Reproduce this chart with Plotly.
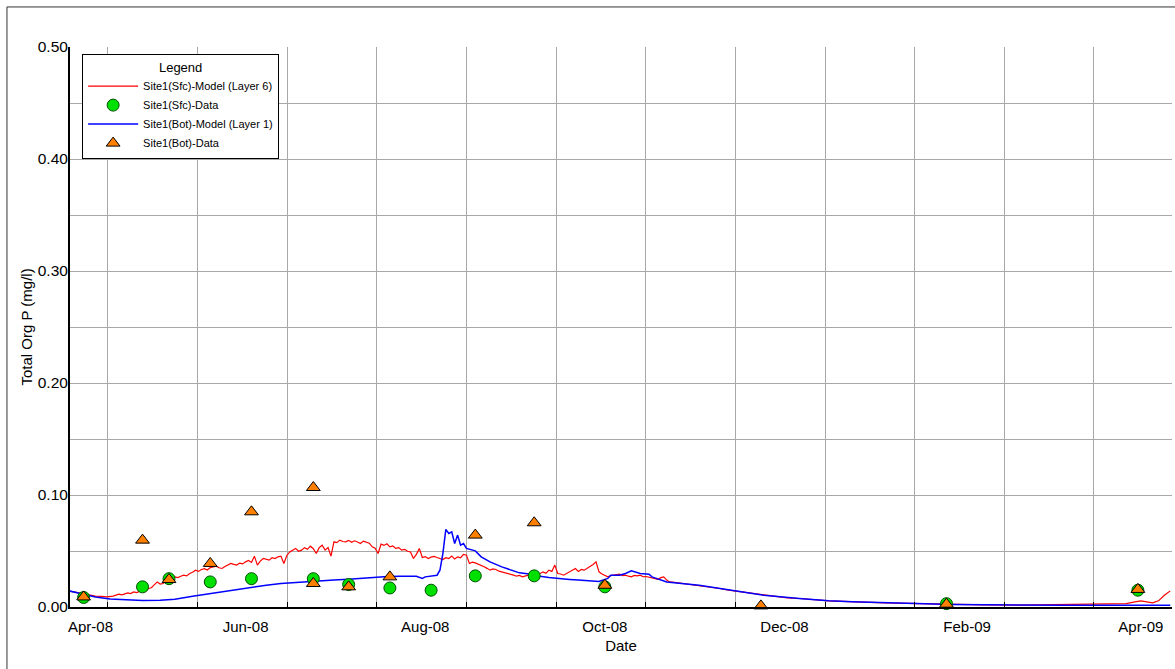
import pandas as pd
import plotly.graph_objects as go

# ---------------- data ----------------
# Site1(Sfc) model, layer 6 (date, mg/l)
sfc_model_points = [
    ("2008-04-02", 0.0144), ("2008-04-05", 0.0128), ("2008-04-07", 0.0121), ("2008-04-09", 0.0108),
    ("2008-04-11", 0.0097), ("2008-04-13", 0.0094), ("2008-04-15", 0.0090), ("2008-04-17", 0.0097),
    ("2008-04-19", 0.0114), ("2008-04-20", 0.0108), ("2008-04-22", 0.0126), ("2008-04-23", 0.0120),
    ("2008-04-24", 0.0135), ("2008-04-25", 0.0128), ("2008-04-27", 0.0150), ("2008-04-28", 0.0142),
    ("2008-04-29", 0.0165), ("2008-04-30", 0.0172), ("2008-05-01", 0.0195), ("2008-05-02", 0.0224),
    ("2008-05-03", 0.0205), ("2008-05-04", 0.0210), ("2008-05-05", 0.0232), ("2008-05-06", 0.0240),
    ("2008-05-07", 0.0255), ("2008-05-08", 0.0269), ("2008-05-09", 0.0262), ("2008-05-10", 0.0275),
    ("2008-05-11", 0.0284), ("2008-05-12", 0.0278), ("2008-05-13", 0.0299), ("2008-05-14", 0.0310),
    ("2008-05-15", 0.0329), ("2008-05-16", 0.0318), ("2008-05-17", 0.0335), ("2008-05-18", 0.0342),
    ("2008-05-19", 0.0330), ("2008-05-20", 0.0352), ("2008-05-21", 0.0358), ("2008-05-22", 0.0365),
    ("2008-05-23", 0.0350), ("2008-05-24", 0.0344), ("2008-05-25", 0.0362), ("2008-05-26", 0.0372),
    ("2008-05-27", 0.0389), ("2008-05-28", 0.0380), ("2008-05-29", 0.0374), ("2008-05-30", 0.0392),
    ("2008-05-31", 0.0385), ("2008-06-01", 0.0403), ("2008-06-02", 0.0415), ("2008-06-03", 0.0398),
    ("2008-06-04", 0.0454), ("2008-06-05", 0.0374), ("2008-06-06", 0.0410), ("2008-06-07", 0.0433),
    ("2008-06-08", 0.0425), ("2008-06-09", 0.0418), ("2008-06-10", 0.0440), ("2008-06-11", 0.0433),
    ("2008-06-12", 0.0448), ("2008-06-13", 0.0454), ("2008-06-14", 0.0389), ("2008-06-15", 0.0460),
    ("2008-06-16", 0.0492), ("2008-06-17", 0.0505), ("2008-06-18", 0.0523), ("2008-06-19", 0.0498),
    ("2008-06-20", 0.0508), ("2008-06-21", 0.0530), ("2008-06-22", 0.0515), ("2008-06-23", 0.0543),
    ("2008-06-24", 0.0520), ("2008-06-25", 0.0478), ("2008-06-26", 0.0530), ("2008-06-27", 0.0552),
    ("2008-06-28", 0.0508), ("2008-06-29", 0.0530), ("2008-06-30", 0.0454), ("2008-07-01", 0.0582),
    ("2008-07-02", 0.0575), ("2008-07-03", 0.0597), ("2008-07-04", 0.0585), ("2008-07-05", 0.0582),
    ("2008-07-06", 0.0595), ("2008-07-07", 0.0578), ("2008-07-08", 0.0591), ("2008-07-09", 0.0580),
    ("2008-07-10", 0.0567), ("2008-07-11", 0.0588), ("2008-07-12", 0.0582), ("2008-07-13", 0.0570),
    ("2008-07-14", 0.0537), ("2008-07-15", 0.0525), ("2008-07-16", 0.0478), ("2008-07-17", 0.0561),
    ("2008-07-18", 0.0550), ("2008-07-19", 0.0565), ("2008-07-20", 0.0537), ("2008-07-21", 0.0545),
    ("2008-07-22", 0.0523), ("2008-07-23", 0.0530), ("2008-07-24", 0.0508), ("2008-07-25", 0.0515),
    ("2008-07-26", 0.0498), ("2008-07-27", 0.0492), ("2008-07-28", 0.0433), ("2008-07-29", 0.0470),
    ("2008-07-30", 0.0523), ("2008-07-31", 0.0442), ("2008-08-01", 0.0450), ("2008-08-02", 0.0433),
    ("2008-08-03", 0.0445), ("2008-08-04", 0.0452), ("2008-08-05", 0.0442), ("2008-08-06", 0.0430),
    ("2008-08-07", 0.0424), ("2008-08-08", 0.0440), ("2008-08-09", 0.0433), ("2008-08-10", 0.0455),
    ("2008-08-11", 0.0428), ("2008-08-12", 0.0448), ("2008-08-13", 0.0440), ("2008-08-14", 0.0470),
    ("2008-08-15", 0.0463), ("2008-08-16", 0.0389), ("2008-08-17", 0.0400), ("2008-08-18", 0.0394),
    ("2008-08-19", 0.0385), ("2008-08-20", 0.0374), ("2008-08-21", 0.0360), ("2008-08-22", 0.0345),
    ("2008-08-23", 0.0329), ("2008-08-24", 0.0340), ("2008-08-25", 0.0335), ("2008-08-26", 0.0320),
    ("2008-08-27", 0.0314), ("2008-08-28", 0.0308), ("2008-08-29", 0.0299), ("2008-08-30", 0.0290),
    ("2008-08-31", 0.0285), ("2008-09-01", 0.0275), ("2008-09-02", 0.0282), ("2008-09-03", 0.0269),
    ("2008-09-04", 0.0278), ("2008-09-05", 0.0284), ("2008-09-06", 0.0276), ("2008-09-07", 0.0290),
    ("2008-09-08", 0.0284), ("2008-09-09", 0.0300), ("2008-09-10", 0.0314), ("2008-09-11", 0.0302),
    ("2008-09-12", 0.0329), ("2008-09-13", 0.0318), ("2008-09-14", 0.0374), ("2008-09-15", 0.0299),
    ("2008-09-16", 0.0295), ("2008-09-17", 0.0284), ("2008-09-18", 0.0300), ("2008-09-19", 0.0314),
    ("2008-09-20", 0.0325), ("2008-09-21", 0.0344), ("2008-09-22", 0.0318), ("2008-09-23", 0.0335),
    ("2008-09-24", 0.0329), ("2008-09-25", 0.0345), ("2008-09-26", 0.0358), ("2008-09-27", 0.0380),
    ("2008-09-28", 0.0403), ("2008-09-29", 0.0314), ("2008-09-30", 0.0295), ("2008-10-01", 0.0285),
    ("2008-10-02", 0.0269), ("2008-10-03", 0.0280), ("2008-10-04", 0.0284), ("2008-10-05", 0.0292),
    ("2008-10-06", 0.0293), ("2008-10-07", 0.0280), ("2008-10-08", 0.0284), ("2008-10-09", 0.0275),
    ("2008-10-10", 0.0269), ("2008-10-11", 0.0282), ("2008-10-12", 0.0278), ("2008-10-13", 0.0284),
    ("2008-10-14", 0.0270), ("2008-10-15", 0.0272), ("2008-10-16", 0.0264), ("2008-10-17", 0.0258),
    ("2008-10-18", 0.0250), ("2008-10-19", 0.0246), ("2008-10-20", 0.0262), ("2008-10-21", 0.0269),
    ("2008-10-22", 0.0240), ("2008-10-23", 0.0224), ("2008-10-24", 0.0222), ("2008-10-26", 0.0215),
    ("2008-10-29", 0.0210), ("2008-11-02", 0.0195), ("2008-11-05", 0.0180), ("2008-11-09", 0.0165),
    ("2008-11-12", 0.0150), ("2008-11-16", 0.0135), ("2008-11-19", 0.0126), ("2008-11-22", 0.0114),
    ("2008-11-26", 0.0103), ("2008-11-29", 0.0090), ("2008-12-02", 0.0081), ("2008-12-06", 0.0076),
    ("2008-12-09", 0.0067), ("2008-12-13", 0.0061), ("2008-12-16", 0.0055), ("2008-12-24", 0.0046),
    ("2009-01-04", 0.0037), ("2009-01-16", 0.0031), ("2009-01-27", 0.0022), ("2009-02-07", 0.0019),
    ("2009-02-18", 0.0016), ("2009-03-06", 0.0022), ("2009-03-17", 0.0025), ("2009-03-27", 0.0031),
    ("2009-03-30", 0.0046), ("2009-04-01", 0.0055), ("2009-04-05", 0.0037), ("2009-04-07", 0.0055),
    ("2009-04-09", 0.0105), ("2009-04-11", 0.0144),
]

# Site1(Bot) model, layer 1 (date, mg/l)
bot_model_points = [
    ("2008-04-02", 0.0144), ("2008-04-07", 0.0114), ("2008-04-11", 0.0090), ("2008-04-16", 0.0072),
    ("2008-04-22", 0.0061), ("2008-04-27", 0.0058), ("2008-05-03", 0.0061), ("2008-05-08", 0.0070),
    ("2008-05-14", 0.0097), ("2008-05-20", 0.0121), ("2008-05-25", 0.0144), ("2008-05-31", 0.0165),
    ("2008-06-08", 0.0195), ("2008-06-13", 0.0210), ("2008-06-19", 0.0222), ("2008-06-25", 0.0228),
    ("2008-07-01", 0.0240), ("2008-07-06", 0.0248), ("2008-07-12", 0.0260), ("2008-07-18", 0.0269),
    ("2008-07-23", 0.0275), ("2008-07-29", 0.0275), ("2008-07-31", 0.0255), ("2008-08-01", 0.0269),
    ("2008-08-05", 0.0284), ("2008-08-06", 0.0329), ("2008-08-07", 0.0478), ("2008-08-08", 0.0693),
    ("2008-08-09", 0.0657), ("2008-08-10", 0.0671), ("2008-08-11", 0.0567), ("2008-08-12", 0.0642),
    ("2008-08-13", 0.0552), ("2008-08-14", 0.0567), ("2008-08-15", 0.0523), ("2008-08-18", 0.0501),
    ("2008-08-20", 0.0448), ("2008-08-23", 0.0403), ("2008-08-27", 0.0358), ("2008-08-30", 0.0329),
    ("2008-09-02", 0.0305), ("2008-09-06", 0.0293), ("2008-09-09", 0.0275), ("2008-09-12", 0.0264),
    ("2008-09-16", 0.0251), ("2008-09-19", 0.0246), ("2008-09-22", 0.0240), ("2008-09-26", 0.0233),
    ("2008-09-29", 0.0228), ("2008-10-02", 0.0255), ("2008-10-03", 0.0284), ("2008-10-06", 0.0284),
    ("2008-10-08", 0.0299), ("2008-10-10", 0.0323), ("2008-10-12", 0.0305), ("2008-10-13", 0.0299),
    ("2008-10-16", 0.0293), ("2008-10-17", 0.0269), ("2008-10-22", 0.0224), ("2008-11-02", 0.0195),
    ("2008-11-13", 0.0150), ("2008-11-24", 0.0105), ("2008-12-06", 0.0076), ("2008-12-16", 0.0055),
    ("2008-12-24", 0.0046), ("2009-01-04", 0.0037), ("2009-01-16", 0.0031), ("2009-01-27", 0.0022),
    ("2009-02-07", 0.0019), ("2009-02-18", 0.0016), ("2009-03-06", 0.0016), ("2009-03-17", 0.0016),
    ("2009-03-31", 0.0016), ("2009-04-11", 0.0016),
]

sfc_data_dates = [
    "2008-04-07", "2008-04-27", "2008-05-06", "2008-05-20", "2008-06-03", "2008-06-24", "2008-07-06",
    "2008-07-20", "2008-08-03", "2008-08-18", "2008-09-07", "2008-10-01", "2009-01-25", "2009-03-31",
]
sfc_data_values = [
    0.0085, 0.0180, 0.0253, 0.0224, 0.0253, 0.0253, 0.0201,
    0.0170, 0.0150, 0.0278, 0.0278, 0.0180, 0.0030, 0.0150,
]

bot_data_dates = [
    "2008-04-07", "2008-04-27", "2008-05-06", "2008-05-20", "2008-06-03", "2008-06-24", "2008-06-24",
    "2008-07-06", "2008-07-20", "2008-08-18", "2008-09-07", "2008-10-01", "2008-11-23", "2009-01-25",
    "2009-03-31",
]
bot_data_values = [
    0.0090, 0.0597, 0.0245, 0.0389, 0.0850, 0.1067, 0.0210,
    0.0180, 0.0269, 0.0642, 0.0752, 0.0194, 0.0010, 0.0025,
    0.0157,
]

tick_dates = ["2008-04-01", "2008-06-01", "2008-08-01", "2008-10-01", "2008-12-01", "2009-02-01", "2009-04-01"]
tick_labels = ["Apr-08", "Jun-08", "Aug-08", "Oct-08", "Dec-08", "Feb-09", "Apr-09"]

# ---------------- styling / layout helpers ----------------
FONT = "Liberation Sans, Arial, sans-serif"
GRID = "#a8a8a8"
x_start = pd.Timestamp("2008-04-02 09:00")
x_end = pd.Timestamp("2009-04-11 14:00")
grid_start = pd.Timestamp("2008-04-15 06:00")
grid_step = pd.Timedelta(days=30.44)
grid_dates = [grid_start + k * grid_step for k in range(12)]

fig = go.Figure()

fig.add_trace(go.Scatter(
    x=[d for d, _ in sfc_model_points], y=[v for _, v in sfc_model_points], mode="lines",
    name="Site1(Sfc)-Model (Layer 6)", line=dict(color="#ff0000", width=1.2),
    legendrank=1,
))
fig.add_trace(go.Scatter(
    x=[d for d, _ in bot_model_points], y=[v for _, v in bot_model_points], mode="lines",
    name="Site1(Bot)-Model (Layer 1)", line=dict(color="#0000ff", width=1.5),
    legendrank=3,
))
fig.add_trace(go.Scatter(
    x=sfc_data_dates, y=sfc_data_values, mode="markers",
    name="Site1(Sfc)-Data",
    marker=dict(symbol="circle", size=12, color="#00e000", line=dict(color="#005000", width=1)),
    cliponaxis=False, legendrank=2,
))
fig.add_trace(go.Scatter(
    x=bot_data_dates, y=bot_data_values, mode="markers",
    name="Site1(Bot)-Data",
    marker=dict(symbol="triangle-up", size=12, color="#ff8000", line=dict(color="#000000", width=1)),
    cliponaxis=False, legendrank=4,
))

# label for the first month tick, which falls just left of the axis start
span = (x_end - x_start).total_seconds()
first_frac = (pd.Timestamp(tick_dates[0]) - x_start).total_seconds() / span

fig.update_layout(
    width=1175, height=669,
    margin=dict(l=70, r=3, t=47, b=62),
    paper_bgcolor="white", plot_bgcolor="white",
    font=dict(family=FONT, size=15, color="black"),
    showlegend=True,
    legend=dict(
        x=0.011, y=0.988, xanchor="left", yanchor="top",
        bgcolor="white", bordercolor="black", borderwidth=1,
        font=dict(family=FONT, size=11, color="black"),
        title=dict(text="Legend", side="top center", font=dict(family=FONT, size=13)),
        itemwidth=50, tracegroupgap=0,
    ),
    xaxis=dict(
        type="date", range=[x_start, x_end],
        tickmode="array", tickvals=tick_dates, ticktext=tick_labels,
        tickfont=dict(family=FONT, size=15), ticks="", showgrid=False,
        ticklabelstandoff=5,
        showline=True, linecolor="black", linewidth=2, zeroline=False,
        minor=dict(tickmode="array", tickvals=grid_dates, showgrid=True, gridcolor=GRID,
                   gridwidth=1, ticks="inside", ticklen=5, tickcolor="black"),
        title=dict(text="Date", font=dict(family=FONT, size=15), standoff=6),
    ),
    yaxis=dict(
        range=[0, 0.5], tickmode="linear", tick0=0, dtick=0.1, tickformat=".2f",
        tickfont=dict(family=FONT, size=15.5),
        showgrid=True, gridcolor=GRID, gridwidth=1, zeroline=False,
        showline=True, linecolor="black", linewidth=2,
        ticks="", ticklabelstandoff=-3,
        minor=dict(dtick=0.05, showgrid=True, gridcolor=GRID, gridwidth=1),
        title=dict(text="Total Org P (mg/l)", font=dict(family=FONT, size=15), standoff=1),
    ),
    annotations=[dict(
        x=first_frac, xref="paper", y=0, yref="paper", yanchor="top", yshift=-9,
        text=tick_labels[0], showarrow=False, font=dict(family=FONT, size=15, color="black"),
    )],
    shapes=[dict(
        type="rect", xref="paper", yref="paper",
        x0=-0.0572, x1=1.2, y0=-0.3, y1=1.0715,
        line=dict(color="#333333", width=1), fillcolor="rgba(0,0,0,0)", layer="above",
    )],
)

fig.write_html("out.html", config={"displayModeBar": False},
               post_script="document.body.style.margin='0';")
